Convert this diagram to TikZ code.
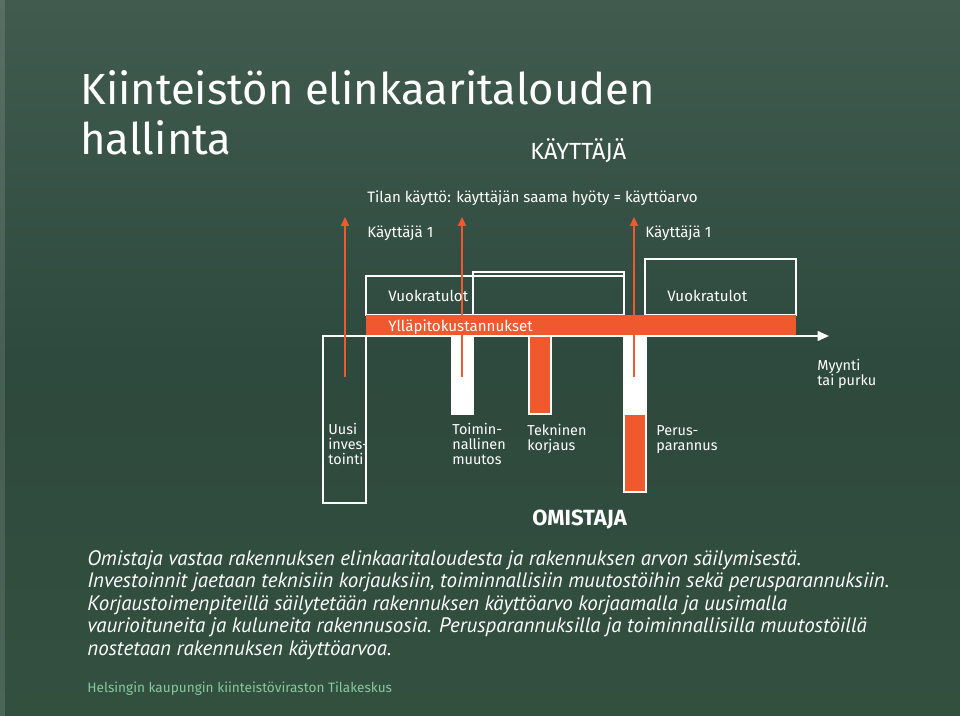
\documentclass[tikz,border=0pt]{standalone}
\usepackage{fontspec}
\setmainfont{Fira Sans}
\newfontfamily\parafont{PT Sans}
\usetikzlibrary{arrows.meta}

\definecolor{bgtop}{HTML}{415C4F}
\definecolor{bgmid}{HTML}{2E493D}
\definecolor{bgbot}{HTML}{33503F}
\definecolor{costred}{HTML}{F0592E}
\definecolor{footgreen}{HTML}{86C9A0}

\begin{document}
\begin{tikzpicture}[x=0.02cm,y=-0.02cm,
    txt/.style={text=white,inner sep=0pt,anchor=base west,font=\fontsize{8.6}{9}\selectfont},
    stack/.style={txt,align=left,font=\fontsize{8.2}{8.3}\selectfont},
    frame/.style={draw=white,line width=1.1pt},
    userarrow/.style={draw=costred,line width=1pt,-{Triangle[width=4.5pt,length=5pt]}},
  ]
  % Background
  \useasboundingbox (0,0) rectangle (960,716);
  \begin{scope}[yscale=-1]
    \shade[top color=bgtop,bottom color=bgbot,middle color=bgmid] (0,-716) rectangle (960,0);
  \end{scope}
  \fill[white,opacity=0.12] (0,0) rectangle (5,716);

  % Define the boxes above and the bars below the time line
  \def\rentA{(366,276) rectangle (624,315)}
  \def\rentB{(473,272) rectangle (624,315)}
  \def\rentC{(645,259) rectangle (796,315)}
  \def\barFunc{(452,336) rectangle (473,414)}
  \def\barTech{(529,336) rectangle (551,414)}
  \def\barBasic{(624,336) rectangle (646,492)}
  \def\boxNew{(323,336) rectangle (366,503)}

  % Rental income and maintenance costs
  \draw[frame] \rentA;
  \draw[frame] \rentB;
  \draw[frame] \rentC;
  \fill[costred] (366,315) rectangle (796,336);

  % Owner investments
  \fill[white] \barFunc;
  \draw[frame] \barFunc;
  \fill[costred] \barTech;
  \draw[frame] \barTech;
  \fill[white] (624,336) rectangle (646,415);
  \fill[costred] (624,415) rectangle (646,492);
  \draw[frame] \barBasic;
  \draw[frame] \boxNew;

  % Time line
  \coordinate (start) at (323,336);
  \coordinate (end) at (829,336);
  \draw[white,line width=1.2pt,-{Triangle[width=5.5pt,length=6.5pt]}] (start) -- (end);

  % Value for the user
  \coordinate (newfoot) at (345,377);
  \coordinate (newhead) at (345,217);
  \coordinate (funcfoot) at (462,377);
  \coordinate (funchead) at (462,217);
  \coordinate (basicfoot) at (634,377);
  \coordinate (basichead) at (634,217);
  \draw[userarrow] (newfoot) -- (newhead);
  \draw[userarrow] (funcfoot) -- (funchead);
  \draw[userarrow] (basicfoot) -- (basichead);

  % Titles
  \node[txt,font=\fontsize{24.8}{28}\selectfont] (title) at (80,105) {Kiinteistön elinkaaritalouden};
  \node[txt,font=\fontsize{24.8}{28}\selectfont] (title2) at (80,155) {hallinta};
  \node[txt,font=\fontsize{13.3}{15}\selectfont] (user) at (530,160) {KÄYTTÄJÄ};
  \node[txt] (use) at (367,203) {Tilan käyttö: käyttäjän saama hyöty = käyttöarvo};
  \node[txt] (user1) at (367,237) {Käyttäjä 1};
  \node[txt] (user2) at (645,237) {Käyttäjä 1};
  \node[txt] (rent1) at (388,301) {Vuokratulot};
  \node[txt] (rent2) at (667,301) {Vuokratulot};
  \node[txt] (cost) at (388,331) {Ylläpitokustannukset};
  \node[stack] (sale) at (817,385) {Myynti\\tai purku};

  % Labels of the investments
  \node[stack] (newlbl) at (328,464) {Uusi\\inves-\\tointi};
  \node[stack] (funclbl) at (452,464) {Toimin-\\nallinen\\muutos};
  \node[stack] (techlbl) at (527,450) {Tekninen\\korjaus};
  \node[stack] (basiclbl) at (656,450) {Perus-\\parannus};
  \node[txt,font=\fontsize{12.5}{14}\bfseries] (owner) at (532,525) {OMISTAJA};

  % Description and footer
  \node[txt,align=left,font=\parafont\itshape\fontsize{11.9}{12.8}\selectfont] (desc) at (87,655)
    {Omistaja vastaa rakennuksen elinkaaritaloudesta ja rakennuksen arvon säilymisestä.\\
     Investoinnit jaetaan teknisiin korjauksiin, toiminnallisiin muutostöihin sekä perusparannuksiin.\\
     Korjaustoimenpiteillä säilytetään rakennuksen käyttöarvo korjaamalla ja uusimalla\\
     vaurioituneita ja kuluneita rakennusosia. Perusparannuksilla ja toiminnallisilla muutostöillä\\
     nostetaan rakennuksen käyttöarvoa.};
  \node[txt,text=footgreen,font=\fontsize{7.75}{9}\selectfont] (foot) at (87,692) {Helsingin kaupungin kiinteistöviraston Tilakeskus};
\end{tikzpicture}
\end{document}
